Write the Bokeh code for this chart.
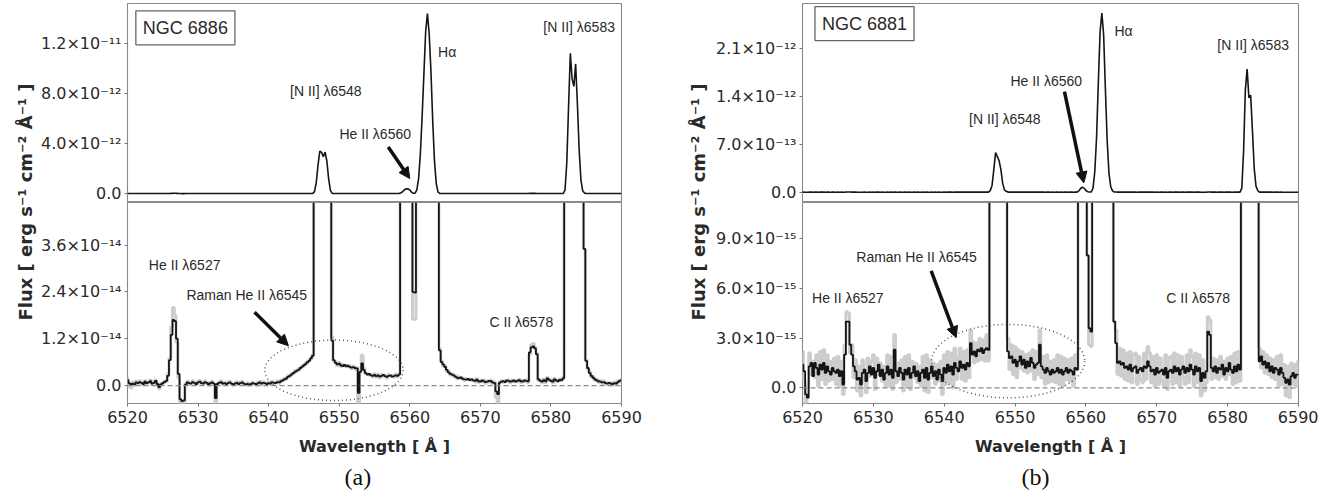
import numpy as np
from math import pi
from bokeh.plotting import figure
from bokeh.layouts import row, column
from bokeh.models import (Range1d, FixedTicker, CustomJSTickFormatter, Label, Arrow,
                          NormalHead, Title, Span, ColumnDataSource)
from bokeh.embed import file_html
from bokeh.resources import INLINE

# ---------------- data (flux in units of 1e-15 erg s^-1 cm^-2 A^-1) ----------------
UNIT = 1e-15
WAVE_START = 6520.0
WAVE_STEP = 0.25
x_ticks = [6520, 6530, 6540, 6550, 6560, 6570, 6580, 6590]
x_label = "Wavelength [ Å ]"
y_label = "Flux [ erg s⁻¹ cm⁻² Å⁻¹ ]"

# NGC 6886 (panel a) - black (binned) spectrum, 0.25 A steps from 6520
flux_a = [
    1.4, 0.6, 0.2, 0.5,   0.3, 0.8, 0.6, 0.9,   0.7, 0.4, 1.0, 0.6,   0.8, 1.1, 0.5, 0.7,      # 6520-6523
    1.2, 0.4, -0.4, 0.3,  0.6, 0.9, 1.2, 2.5,   6.5, 13.0, 16.8, 16.5, 12.0, 3.0, -3.5, -4.0,  # 6524-6527
    -3.8, 0.2, 0.8, 0.6,  0.5, 0.9, 0.7, 0.4,   0.8, 1.0, 0.6, 0.5,   0.9, 0.7, 0.3, 0.6,      # 6528-6531
    0.8, 0.5, -3.2, 0.4,  0.7, 0.9, 0.5, 0.6,   0.4, 0.6, 0.8, 0.5,   0.3, 0.5, 0.7, 0.4,      # 6532-6535
    0.6, 0.8, 0.5, 0.3,   0.4, 0.2, 0.4, 0.6,   0.5, 0.3, 0.6, 0.8,   0.5, 0.7, 0.6, 0.4,      # 6536-6539
    0.6, 0.5, 0.8, 0.7,   0.6, 0.9, 0.8, 1.1,   1.3, 1.6, 1.8, 2.2,   2.5, 2.8, 3.2, 3.5,      # 6540-6543
    3.8, 4.0, 4.5, 4.8,   5.2, 5.5, 6.0, 6.3,   7.0, 7.6, 150, 900,   2300, 3400, 3300, 2950,  # 6544-6547
    3330, 2600, 1200, 250, 11.5, 6.5, 5.8, 5.4, 5.6, 5.2, 5.0, 5.3,   4.9, 5.1, 4.8, 4.6,      # 6548-6551
    4.7, 4.5, 4.4, -1.9,  3.5, 5.7, 4.0, 3.2,   2.8, 3.0, 2.6, 2.5,   2.7, 2.4, 2.6, 2.3,      # 6552-6555
    2.5, 2.7, 2.4, 2.2,   2.5, 2.6, 2.3, 2.4,   2.6, 2.5, 2.8, 60,    150, 300, 380, 370,      # 6556-6559
    280, 110, 24, 23.8,   300, 1200, 3200, 6200, 9600, 13000, 14450, 12800, 9800, 5800, 2600, 800,  # 6560-6563
    120, 9, 6, 5.4,       4.8, 4.0, 3.4, 3.0,   2.8, 2.6, 2.2, 2.0,   1.9, 2.1, 1.7, 1.6,      # 6564-6567
    1.5, 1.7, 1.4, 1.6,   1.3, 1.2, 1.5, 1.1,   1.0, 1.3, 1.1, 0.9,   1.0, 1.2, 1.1, 0.8,      # 6568-6571
    0.6, -1.5, -2.2, 0.7, 1.0, 1.1, 0.9, 1.3,   1.2, 1.0, 1.1, 1.3,   1.0, 1.2, 1.4, 1.1,      # 6572-6575
    1.0, 1.3, 1.2, 1.1,   8.5, 9.8, 10.0, 9.5,  8.0, 1.6, 1.2, 1.0,   1.4, 1.1, 1.8, 1.5,      # 6576-6579
    1.2, 1.0, 1.6, 1.3,   1.1, 1.5, 1.3, 1.8,   300, 2500, 7000, 11250, 9200, 8600, 10400, 7200,  # 6580-6583
    3500, 1100, 220, 35,  6.3, 4.5, 3.2, 2.5,   2.0, 1.6, 1.3, 1.1,   1.0, 0.8, 0.9, 0.6,      # 6584-6587
    0.5, 0.7, 0.5, 0.4,   0.6, 0.5, 0.9, 1.2,   1.4,                                           # 6588-6590
]
# NGC 6886 - grey (unbinned) spectrum
gray_a = [
    1.8, 0.2, -0.6, 0.9,  0.0, 1.1, 0.4, 1.2,   0.5, 0.1, 1.3, 0.4,   1.0, 1.4, 0.2, 0.9,
    1.5, 0.1, -0.8, 0.6,  0.4, 1.1, 1.0, 3.0,   7.0, 15.0, 20.0, 18.0, 11.0, 2.0, -4.6, -4.6,
    -4.6, 0.4, 1.1, 0.3,  0.8, 1.2, 0.4, 0.2,   1.1, 1.3, 0.3, 0.7,   1.2, 0.4, 0.1, 0.9,
    1.1, 0.2, -4.6, 0.6,  1.0, 1.2, 0.3, 0.8,   0.2, 0.9, 1.1, 0.3,   0.1, 0.8, 1.0, 0.2,
    0.9, 1.1, 0.3, 0.1,   0.7, 0.0, 0.6, 0.9,   0.3, 0.1, 0.9, 1.1,   0.3, 1.0, 0.4, 0.2,
    0.9, 0.3, 1.1, 0.5,   0.9, 1.2, 0.6, 1.4,   1.1, 1.9, 1.6, 2.5,   2.3, 3.1, 3.0, 3.8,
    3.6, 4.3, 4.3, 5.1,   5.0, 5.8, 5.8, 6.6,   6.8, 7.9, 150, 900,   2300, 3400, 3300, 2950,
    3330, 2600, 1200, 250, 12.5, 6.2, 6.1, 5.1, 5.9, 4.9, 5.3, 5.0,   5.2, 4.8, 5.1, 4.3,
    5.0, 4.2, 4.6, -4.6,  3.8, 7.8, 4.5, 3.0,   3.1, 2.7, 2.9, 2.2,   3.0, 2.1, 2.9, 2.0,
    2.8, 2.4, 2.7, 1.9,   2.8, 2.3, 2.6, 2.1,   2.9, 2.2, 3.1, 60,    150, 300, 380, 370,
    280, 110, 17.0, 17.0, 300, 1200, 3200, 6200, 9600, 13000, 14450, 12800, 9800, 5800, 2600, 800,
    120, 9.5, 6.4, 5.0,   5.1, 3.7, 3.7, 2.7,   3.1, 2.3, 2.5, 1.7,   2.2, 1.8, 2.0, 1.3,
    1.8, 1.4, 1.7, 1.3,   1.6, 0.9, 1.8, 0.8,   1.3, 1.0, 1.4, 0.6,   1.3, 0.9, 1.4, 0.5,
    0.9, -3.0, -4.6, 1.0, 1.3, 0.8, 1.2, 1.0,   1.5, 0.7, 1.4, 1.0,   1.3, 0.9, 1.7, 0.8,
    1.3, 1.0, 1.5, 0.8,   8.0, 10.5, 10.8, 9.8, 8.4, 1.3, 1.5, 0.7,   1.7, 0.8, 2.1, 1.2,
    1.5, 0.7, 1.9, 1.0,   1.4, 1.2, 1.6, 2.1,   300, 2500, 7000, 11250, 9200, 8600, 10400, 7200,
    3500, 1100, 220, 35,  6.6, 4.2, 3.5, 2.2,   2.3, 1.3, 1.6, 0.8,   1.3, 0.5, 1.2, 0.3,
    0.8, 0.4, 0.8, 0.1,   0.9, 0.2, 1.2, 0.9,   1.7,
]

# NGC 6881 (panel b) - black (binned) spectrum
flux_b = [
    1.4, 1.0, -0.4, -0.6, 1.3, 1.5, 0.7, 1.5,   1.2, 0.8, 1.4, 1.1,   1.5, 0.9, 1.3, 1.0,      # 6520-6523
    0.8, 1.2, 1.0, 0.9,   1.1, 0.7, 1.0, 0.2,   2.0, 4.0, 4.0, 2.6,   2.0, 1.3, 1.0, 0.5,      # 6524-6527
    0.6, 0.2, 0.9, 1.1,   0.4, 0.9, 1.3, 0.8,   1.2, 0.6, 1.0, 1.4,   0.7, 1.1, 0.5, 0.9,      # 6528-6531
    1.3, 0.8, 1.1, 0.6,   2.3, 1.0, 0.7, 1.2,   0.9, 0.5, 1.1, 0.8,   1.2, 0.6, 0.9, 1.3,      # 6532-6535
    0.7, 1.0, 0.4, 0.9,   1.1, 0.6, 1.2, 0.5,   0.9, 1.3, 0.7, 1.0,   0.5, 1.1, 0.8, 0.4,      # 6536-6539
    1.2, 0.9, 1.4, 1.0,   1.3, 0.8, 1.5, 1.2,   1.0, 1.6, 1.2, 1.4,   1.1, 1.5, 1.3, 2.7,      # 6540-6543
    2.0, 2.2, 1.9, 2.3,   2.2, 2.4, 2.1, 2.3,   2.4, 2.3, 25, 100,    330, 580, 520, 460,      # 6544-6547
    330, 130, 35, 14,     2.2, 1.8, 1.9, 1.5,   1.7, 1.3, 1.6, 1.9,   1.4, 1.7, 1.2, 1.6,      # 6548-6551
    1.3, 1.8, 1.5, 1.2,   1.4, 1.5, 2.6, 1.3,   1.1, 0.9, 1.2, 1.0,   0.8, 1.1, 0.9, 1.0,      # 6552-6555
    1.2, 0.9, 1.1, 0.8,   1.0, 1.2, 0.9, 1.1,   1.0, 0.8, 1.2, 1.1,   20, 55, 73, 60,          # 6556-6559
    25, 8, 3.6, 3.4,      60, 300, 800, 1600,   2350, 2620, 2300, 1500, 750, 280, 80, 20,      # 6560-6563
    4.0, 2.7, 1.5, 1.6,   1.4, 1.5, 1.2, 1.3,   1.1, 1.4, 1.0, 1.2,   1.3, 0.9, 1.1, 1.2,      # 6564-6567
    1.0, 1.3, 1.2, 1.6,   1.3, 1.0, 1.1, 0.8,   1.2, 0.9, 1.0, 1.1,   0.8, 1.2, 0.6, 1.0,      # 6568-6571
    1.1, 0.9, 1.3, 1.0,   1.2, 0.8, 1.1, 1.3,   0.9, 1.2, 1.0, 1.4,   1.1, 0.8, 1.3, 1.0,      # 6572-6575
    1.2, 0.4, 0.9, 0.6,   1.0, 3.4, 3.2, 1.2,   1.0, 1.3, 0.9, 1.2,   1.1, 1.4, 0.8, 1.2,      # 6576-6579
    1.0, 1.5, 1.1, 0.9,   1.3, 1.0, 1.4, 1.1,   60, 600, 1500, 1800,  1380, 1420, 900, 350,    # 6580-6583
    90, 25, 1.6, 1.9,     1.4, 1.6, 1.2, 1.5,   1.0, 1.3, 0.9, 1.2,   1.1, 0.8, 1.2, 0.9,      # 6584-6587
    0.6, 0.3, 0.5, 0.2,   0.7, 0.9, 0.6, 0.8,   0.8,                                           # 6588-6590
]
# NGC 6881 - grey (unbinned) spectrum
gray_b = [
    2.2, 0.4, -0.9, 0.1,  2.1, 0.8, 1.6, 0.6,   2.0, 0.1, 2.2, 0.5,   2.3, 0.2, 2.0, 0.4,
    1.6, 0.5, 1.8, 0.2,   1.9, 0.1, 1.6, -0.4,  2.6, 4.6, 4.5, 2.1,   2.6, 0.6, 1.7, -0.2,
    1.3, -0.5, 1.7, 0.4,  -0.3, 1.8, 0.7, 1.6,  2.0, -0.1, 1.8, 0.8,  1.5, 0.4, 1.3, 0.1,
    2.0, 0.1, 1.9, -0.1,  3.2, 0.3, 1.5, 0.5,   1.7, -0.2, 1.9, 0.1,  2.0, -0.1, 1.6, 0.6,
    1.5, 0.3, 1.3, 0.1,   1.9, -0.2, 2.0, -0.3, 1.7, 0.6, 1.5, 0.2,   1.4, 0.4, 1.6, -0.4,
    2.0, 0.2, 2.2, 0.3,   2.1, 0.0, 2.4, 0.5,   1.8, 2.4, 0.5, 2.2,   0.4, 2.3, 0.6, 3.5,
    2.8, 1.5, 2.7, 1.6,   3.0, 1.7, 2.9, 1.6,   3.2, 1.6, 25, 100,    330, 580, 520, 460,
    330, 130, 35, 14,     3.0, 1.1, 2.6, 0.8,   2.5, 0.6, 2.3, 1.2,   2.2, 1.0, 2.0, 0.9,
    2.1, 1.0, 2.3, 0.5,   2.2, 0.8, 3.5, 0.6,   1.9, 0.2, 2.0, 0.3,   1.6, 0.4, 1.7, 0.3,
    2.0, 0.2, 1.9, 0.1,   1.8, 0.5, 1.7, 0.4,   1.8, 0.1, 2.0, 1.1,   20, 55, 73, 60,
    25, 8, 2.6, 2.5,      60, 300, 800, 1600,   2350, 2620, 2300, 1500, 750, 280, 80, 20,
    4.0, 3.5, 0.8, 2.4,   0.7, 2.3, 0.5, 2.1,   0.4, 2.2, 0.3, 2.0,   2.1, 0.2, 1.9, 0.5,
    0.3, 2.1, 0.5, 2.5,   2.1, 0.3, 1.9, 0.1,   2.0, 0.2, 1.8, 0.4,   0.1, 2.0, -0.1, 1.8,
    1.9, 0.2, 2.1, 0.3,   2.0, 0.1, 1.9, 0.6,   0.2, 2.0, 0.3, 2.3,   1.9, 0.1, 2.1, 0.3,
    2.0, -0.5, 1.7, -0.2, 0.3, 4.3, 4.1, 0.5,   1.8, 0.6, 1.7, 0.5,   1.9, 0.7, 1.6, 0.5,
    1.8, 0.8, 1.9, 0.2,   2.1, 0.3, 2.2, 0.4,   60, 600, 1500, 1800,  1380, 1420, 900, 350,
    90, 25, 2.4, 1.2,     2.2, 0.9, 2.0, 0.8,   1.8, 0.6, 1.7, 0.5,   1.9, 0.1, 2.0, 0.2,
    1.4, -0.5, 1.3, -0.6, 1.5, 0.2, 1.4, 0.1,   1.6,
]

# y ticks (flux values) and their labels
upper_a_ticks = [0.0, 4.0e-12, 8.0e-12, 1.2e-11]
upper_a_labels = ["0.0", "4.0×10⁻¹²", "8.0×10⁻¹²", "1.2×10⁻¹¹"]
lower_a_ticks = [0.0, 1.2e-14, 2.4e-14, 3.6e-14]
lower_a_labels = ["0.0", "1.2×10⁻¹⁴", "2.4×10⁻¹⁴", "3.6×10⁻¹⁴"]
upper_b_ticks = [0.0, 7.0e-13, 1.4e-12, 2.1e-12]
upper_b_labels = ["0.0", "7.0×10⁻¹³", "1.4×10⁻¹²", "2.1×10⁻¹²"]
lower_b_ticks = [0.0, 3.0e-15, 6.0e-15, 9.0e-15]
lower_b_labels = ["0.0", "3.0×10⁻¹⁵", "6.0×10⁻¹⁵", "9.0×10⁻¹⁵"]

# axis extents
upper_a_range = (-0.72e-12, 15.25e-12)
lower_a_range = (-4.6e-15, 46.9e-15)
upper_b_range = (-0.15e-12, 2.76e-12)
lower_b_range = (-0.95e-15, 11.2e-15)

# annotations: (text, wavelength, flux)
names = ["NGC 6886", "NGC 6881"]
name_pos = [(6528.2, 13.3e-12), (6528.75, 2.466e-12)]
upper_notes_a = [("[N II] λ6548", 6548.1, 8.26e-12), ("He II λ6560", 6555.1, 4.8e-12),
                 ("Hα", 6565.3, 11.33e-12), ("[N II] λ6583", 6584.0, 13.37e-12)]
lower_notes_a = [("He II λ6527", 6528.1, 30.9e-15), ("Raman He II λ6545", 6536.9, 23.2e-15),
                 ("C II λ6578", 6575.8, 16.3e-15)]
upper_notes_b = [("[N II] λ6548", 6548.55, 1.07e-12), ("He II λ6560", 6554.4, 1.626e-12),
                 ("Hα", 6565.3, 2.36e-12), ("[N II] λ6583", 6583.6, 2.15e-12)]
lower_notes_b = [("He II λ6527", 6526.4, 5.4e-15), ("Raman He II λ6545", 6536.1, 7.88e-15),
                 ("C II λ6578", 6575.84, 5.4e-15)]
# arrows (x0, y0, x1, y1)
upper_arrow_a = (6556.94, 3.73e-12, 6560.0, 1.2e-12)
lower_arrow_a = (6538.0, 18.8e-15, 6542.8, 10.2e-15)
upper_arrow_b = (6556.97, 1.47e-12, 6559.7, 0.137e-12)
lower_arrow_b = (6538.16, 7.07e-15, 6541.69, 3.03e-15)
# dotted ellipses (x, y, width, height)
ellipse_a = (6549.26, 3.9e-15, 19.6, 15.5e-15)
ellipse_b = (6549.03, 1.61e-15, 21.6, 4.44e-15)
captions = ["(a)", "(b)"]

# ---------------- styling ----------------
TICK_FONT = "DejaVu Sans"
NOTE_FONT = "Liberation Sans"
TXT = "#2a2a2a"
EDGE = "#8a8a8a"
FH_UP, FH_LOW = 199, 201
TOP = 3


def y_formatter(vals, labels):
    return CustomJSTickFormatter(args=dict(vals=vals, labels=labels), code="""
        for (let i = 0; i < vals.length; i++) {
            const v = vals[i];
            if (v === 0) { if (Math.abs(tick) < 1e-30) return labels[i]; }
            else if (Math.abs(tick - v) <= 1e-6 * Math.abs(v)) return labels[i];
        }
        return "";
    """)


def style(p):
    for ax in p.axis:
        ax.axis_line_color = None
        ax.major_tick_line_color = "#777777"
        ax.major_tick_out = 3
        ax.major_tick_in = 0
        ax.minor_tick_line_color = None
        ax.major_label_text_font = TICK_FONT
        ax.major_label_text_font_size = "16px"
        ax.major_label_text_color = TXT
        ax.major_label_standoff = 3
    p.grid.visible = False
    p.outline_line_color = EDGE
    p.outline_line_width = 1.1
    p.background_fill_color = "white"
    p.border_fill_color = "white"


def add_note(p, text, x, y, size="14px"):
    p.add_layout(Label(x=x, y=y, text=text, text_align="center", text_baseline="middle",
                       text_font=NOTE_FONT, text_font_size=size, text_color=TXT))


def add_arrow(p, a):
    p.add_layout(Arrow(end=NormalHead(size=11, fill_color="#111111", line_color="#111111"),
                       x_start=a[0], y_start=a[1], x_end=a[2], y_end=a[3],
                       line_width=3.5, line_color="#111111"))


def make_side(flux, gray, up_rng, lo_rng, up_t, up_l, lo_t, lo_l, name, npos,
              up_notes, lo_notes, up_arr, lo_arr, ell, cap, fw, ml, mr, cap_off):
    wave = WAVE_START + WAVE_STEP * np.arange(len(flux))
    src = ColumnDataSource(dict(x=wave, y=np.array(flux) * UNIT, g=np.array(gray) * UNIT))

    up = figure(frame_width=fw, frame_height=FH_UP, x_range=Range1d(6520, 6590),
                y_range=Range1d(*up_rng), output_backend="svg", toolbar_location=None,
                min_border_left=ml, min_border_right=mr, min_border_top=TOP, min_border_bottom=0)
    style(up)
    up.xaxis.visible = False
    up.yaxis.ticker = FixedTicker(ticks=up_t)
    up.yaxis.formatter = y_formatter(up_t, up_l)
    up.line(x="x", y="y", source=src, line_color="#151515", line_width=1.6)
    up.add_layout(Label(x=npos[0], y=npos[1], text=name, text_align="center",
                        text_baseline="middle", text_font=NOTE_FONT, text_font_size="18px",
                        text_color=TXT, border_line_color="#666666", border_line_width=1.3,
                        background_fill_color="white", padding=7))
    for t, x, y in up_notes:
        add_note(up, t, x, y)
    add_arrow(up, up_arr)

    lo = figure(frame_width=fw, frame_height=FH_LOW, x_range=up.x_range,
                y_range=Range1d(*lo_rng), output_backend="svg", toolbar_location=None,
                min_border_left=ml, min_border_right=mr, min_border_top=0, min_border_bottom=91)
    style(lo)
    lo.xaxis.ticker = FixedTicker(ticks=x_ticks)
    lo.xaxis.major_label_standoff = 4
    lo.yaxis.ticker = FixedTicker(ticks=lo_t)
    lo.yaxis.formatter = y_formatter(lo_t, lo_l)
    lo.xaxis.axis_label = x_label
    lo.xaxis.axis_label_text_font = TICK_FONT
    lo.xaxis.axis_label_text_font_style = "bold"
    lo.xaxis.axis_label_text_font_size = "16px"
    lo.xaxis.axis_label_text_color = TXT
    lo.xaxis.axis_label_standoff = 11
    lo.add_layout(Span(location=0, dimension="width", line_color="#8a8a8a",
                       line_dash="5 3", line_width=1.2))
    lo.step(x="x", y="g", source=src, mode="center", line_color="#cdcdcd", line_width=3)
    lo.step(x="x", y="y", source=src, mode="center", line_color="#151515", line_width=1.8)
    lo.ellipse(x=[ell[0]], y=[ell[1]], width=[ell[2]], height=[ell[3]], fill_color=None,
               line_color="#555555", line_dash="1 3", line_width=1.5)
    for t, x, y in lo_notes:
        add_note(lo, t, x, y)
    add_arrow(lo, lo_arr)
    lo.add_layout(Title(text=cap, align="left", offset=cap_off, text_font="Liberation Serif",
                        text_font_size="24px", text_font_style="normal", text_color="#111111",
                        standoff=7), "below")
    return column(up, lo)


def ylab_fig(width, xfrac):
    p = figure(width=width, height=TOP + FH_UP + FH_LOW, x_range=Range1d(0, 1),
               y_range=Range1d(0, 1), output_backend="svg", toolbar_location=None, min_border=0)
    p.axis.visible = False
    p.grid.visible = False
    p.outline_line_color = None
    p.add_layout(Label(x=xfrac, y=0.5, text=y_label, angle=pi / 2, text_align="center",
                       text_baseline="middle", text_font=TICK_FONT, text_font_style="bold",
                       text_font_size="18px", text_color=TXT))
    return p


side_a = make_side(flux_a, gray_a, upper_a_range, lower_a_range, upper_a_ticks, upper_a_labels,
                   lower_a_ticks, lower_a_labels, names[0], name_pos[0], upper_notes_a,
                   lower_notes_a, upper_arrow_a, lower_arrow_a, ellipse_a, captions[0],
                   494, 88, 62, 217)
side_b = make_side(flux_b, gray_b, upper_b_range, lower_b_range, upper_b_ticks, upper_b_labels,
                   lower_b_ticks, lower_b_labels, names[1], name_pos[1], upper_notes_b,
                   lower_notes_b, upper_arrow_b, lower_arrow_b, ellipse_b, captions[1],
                   496, 86, 20, 219)

layout = row(ylab_fig(38, 0.66), side_a, ylab_fig(30, 0.5), side_b)
open("out.html", "w").write(file_html(layout, INLINE))
